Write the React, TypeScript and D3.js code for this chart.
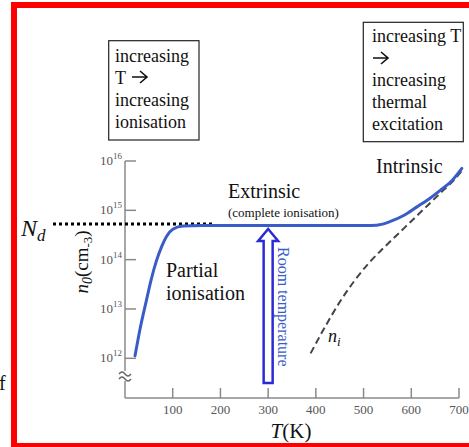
import React from "react";
import * as d3 from "d3";

// ---- data ----
const xTicks = [100, 200, 300, 400, 500, 600, 700];
const yTickExps = [12, 13, 14, 15, 16];
// extrinsic carrier density curve: [T (K), log10 n0]
const n0Curve: [number, number][] = [
  [21, 12.05], [31, 12.57], [45, 13.18], [55, 13.6], [66, 13.98], [77, 14.27],
  [87, 14.47], [101, 14.62], [122, 14.68], [160, 14.69], [250, 14.69], [350, 14.69],
  [450, 14.69], [515, 14.69], [540, 14.72], [555, 14.77], [585, 14.9], [612, 15.07],
  [640, 15.25], [660, 15.4], [685, 15.6], [706, 15.85],
];
// intrinsic carrier density ni: [T (K), log10 ni]
const niCurve: [number, number][] = [
  [389, 12.1], [420, 12.65], [450, 13.14], [480, 13.56], [510, 13.92], [540, 14.22],
  [570, 14.5], [600, 14.78], [630, 15.06], [660, 15.34], [690, 15.62], [706, 15.8],
];
const roomT = 300;
const box1Lines = ["increasing", "T ", "increasing", "ionisation"];
const box2Lines = ["increasing T", "", "increasing", "thermal", "excitation"];

const W = 469;
const H = 447;
const serif = "'Liberation Serif', 'Times New Roman', serif";

export default function App() {
  const x = d3.scaleLinear().domain([0, 700]).range([125, 459]);
  const y = d3.scaleLinear().domain([12, 16]).range([358.3, 161]);
  const line = d3
    .line<[number, number]>()
    .x((d) => x(d[0]))
    .y((d) => y(d[1]))
    .curve(d3.curveMonotoneX);

  const axisColor = "#8a8a8a";
  const tickText = "#555";
  const x0 = x(0);
  const yBase = 398;
  const blue = "#3a5cc9";

  // room temperature arrow geometry
  const rx = x(roomT);
  const sw = 4.5, hw = 10, tipY = 229, headB = 241, botY = 383;
  const arrowPath = `M${rx},${tipY} L${rx + hw},${headB} L${rx + sw},${headB} L${rx + sw},${botY} L${rx - sw},${botY} L${rx - sw},${headB} L${rx - hw},${headB} Z`;

  const brk = (yy: number) => `M${x0 - 6},${yy + 2} q3,-4 6,0 t6,0`;

  const arrowGlyph = (ax: number, ay: number) =>
    `M${ax},${ay} H${ax + 14} M${ax + 8},${ay - 6} L${ax + 15},${ay} L${ax + 8},${ay + 6}`;

  return (
    <svg width={W} height={H} style={{ position: "absolute", left: 0, top: 0, background: "#fff" }} fontFamily={serif}>
      <rect x={0} y={0} width={W} height={H} fill="#fff" />
      {/* red frame: left, top and bottom edges (right edge lies outside the picture) */}
      <path d={`M${W + 5},5 H14 V446 H${W + 5}`} fill="none" stroke="#ff0000" strokeWidth={6} />

      {/* boxes */}
      <rect x={108.7} y={40.7} width={90.3} height={99.3} fill="none" stroke="#222" strokeWidth={1.2} />
      {box1Lines.map((t, i) => (
        <text key={i} x={115} y={62 + i * 22} fontSize={18} fill="#111">{t}</text>
      ))}
      <path d={arrowGlyph(132, 77)} fill="none" stroke="#111" strokeWidth={1.6} />
      <rect x={363.3} y={22.3} width={100} height={119.4} fill="none" stroke="#222" strokeWidth={1.2} />
      {box2Lines.map((t, i) => (
        <text key={i} x={372} y={42 + i * 22} fontSize={18} fill="#111">{t}</text>
      ))}
      <path d={arrowGlyph(373, 58)} fill="none" stroke="#111" strokeWidth={1.6} />

      {/* y axis with break */}
      <line x1={x0} x2={x0} y1={y(16)} y2={371} stroke={axisColor} strokeWidth={1.5} />
      <line x1={x0} x2={x0} y1={381} y2={yBase} stroke={axisColor} strokeWidth={1.5} />
      <path d={brk(372)} fill="none" stroke="#666" strokeWidth={1.3} />
      <path d={brk(377)} fill="none" stroke="#666" strokeWidth={1.3} />
      {yTickExps.map((e) => (
        <g key={e}>
          <line x1={x0} x2={x0 + 11} y1={y(e)} y2={y(e)} stroke={axisColor} strokeWidth={1.5} />
          <text x={x0 - 3} y={y(e) + 4} fontSize={13} fill={tickText} textAnchor="end">
            10<tspan fontSize={9} dy={-6}>{e}</tspan>
          </text>
        </g>
      ))}

      {/* x axis */}
      <line x1={x0} x2={x(700)} y1={yBase} y2={yBase} stroke={axisColor} strokeWidth={1.5} />
      {xTicks.map((t) => (
        <g key={t}>
          <line x1={x(t)} x2={x(t)} y1={yBase} y2={yBase - 10} stroke={axisColor} strokeWidth={1.5} />
          <text x={x(t)} y={414} fontSize={13} fill={tickText} textAnchor="middle">{t}</text>
        </g>
      ))}

      {/* Nd dotted line */}
      <line x1={53} x2={213} y1={224} y2={224} stroke="#000" strokeWidth={3} strokeDasharray="3,3" />

      {/* curves */}
      <path d={line(niCurve) || ""} fill="none" stroke="#444" strokeWidth={2} strokeDasharray="7,4" />
      <path d={line(n0Curve) || ""} fill="none" stroke={blue} strokeWidth={3} strokeLinecap="round" />

      {/* room temperature arrow */}
      <path d={arrowPath} fill="#fff" stroke="#2b2bd6" strokeWidth={2.5} strokeLinejoin="miter" />
      <text transform={`translate(${rx + 10},247) rotate(90)`} fontSize={16} fill="#3a5cc9">Room temperature</text>

      {/* labels */}
      <text x={228} y={198} fontSize={20} fill="#111">Extrinsic</text>
      <text x={228} y={217} fontSize={13} fill="#111">(complete ionisation)</text>
      <text x={376} y={173} fontSize={20} fill="#111">Intrinsic</text>
      <text x={166} y={277} fontSize={20} fill="#111">Partial</text>
      <text x={166} y={300} fontSize={20} fill="#111">ionisation</text>
      <text x={328} y={342} fontSize={18} fill="#111" fontStyle="italic">
        n<tspan fontSize={13} dy={4}>i</tspan>
      </text>
      <text x={21} y={236} fontSize={24} fill="#111" fontStyle="italic">
        N<tspan fontSize={17} dy={5}>d</tspan>
      </text>
      <text transform="translate(88,262) rotate(-90)" fontSize={19} fill="#111" textAnchor="middle">
        <tspan fontStyle="italic">n</tspan>
        <tspan fontStyle="italic" fontSize={14} dy={4}>0</tspan>
        <tspan dy={-4}>(cm</tspan>
        <tspan fontSize={13} dy={4}>-3</tspan>
        <tspan dy={-4}>)</tspan>
      </text>
      <text x={291} y={438} fontSize={21} fill="#111" textAnchor="middle">
        <tspan fontStyle="italic">T</tspan>(K)
      </text>
      <text x={-1} y={390} fontSize={20} fill="#111">f</text>
    </svg>
  );
}
